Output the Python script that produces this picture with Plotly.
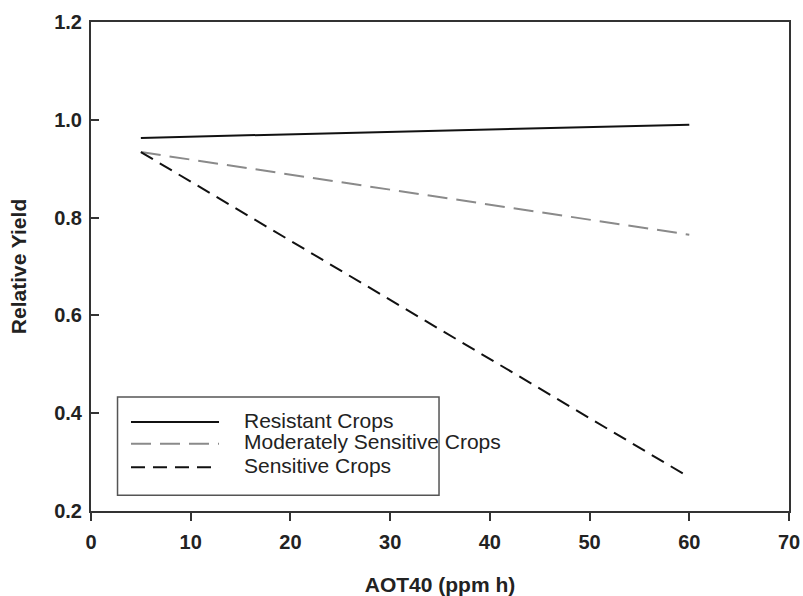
import plotly.graph_objects as go

# AOT40 exposure (ppm h) at the ends of each response line
aot40 = [5, 60]

# Relative yield for each crop sensitivity class
resistant = [0.963, 0.990]
moderate = [0.934, 0.765]
sensitive = [0.934, 0.269]

series_names = ["Resistant Crops", "Moderately Sensitive Crops", "Sensitive Crops"]
series_values = [resistant, moderate, sensitive]
series_styles = [
    dict(color="#111111", width=2, dash="solid"),
    dict(color="#8a8a8a", width=2, dash="20px,9px"),
    dict(color="#111111", width=2, dash="14px,8px"),
]

x_ticks = [0, 10, 20, 30, 40, 50, 60, 70]
y_ticks = [0.2, 0.4, 0.6, 0.8, 1.0, 1.2]

FONT = "Liberation Sans, Arial, Helvetica, sans-serif"

fig = go.Figure()
for name, vals, style in zip(series_names, series_values, series_styles):
    fig.add_trace(go.Scatter(x=aot40, y=vals, mode="lines", name=name,
                             line=style, showlegend=False))

# Boxed legend in the lower-left corner of the plot area
shapes = [dict(type="rect", xref="paper", yref="paper",
               x0=0.038, x1=0.4986, y0=0.032, y1=0.233,
               line=dict(color="#555555", width=1.5), fillcolor="white", layer="above")]
annotations = []
row_y = [0.182, 0.1374, 0.0894]
for name, style, yy in zip(series_names, series_styles, row_y):
    shapes.append(dict(type="line", xref="paper", yref="paper",
                       x0=0.0573, x1=0.1834, y0=yy, y1=yy,
                       line=dict(color=style["color"], width=style["width"], dash=style["dash"]),
                       layer="above"))
    annotations.append(dict(xref="paper", yref="paper", x=0.2163, y=yy + 0.004,
                            text=name, showarrow=False, xanchor="left", yanchor="middle",
                            font=dict(family=FONT, size=21, color="#222222")))

fig.update_layout(
    width=803, height=596,
    margin=dict(l=91, r=14, t=22, b=85),
    plot_bgcolor="white", paper_bgcolor="white",
    font=dict(family=FONT, color="#222222"),
    shapes=shapes, annotations=annotations,
    showlegend=False,
)

fig.update_xaxes(
    range=[0, 70], tickvals=x_ticks, ticktext=[str(v) for v in x_ticks],
    ticks="outside", ticklen=8, tickwidth=1.5, tickcolor="#333333",
    showline=True, linecolor="#333333", linewidth=2, mirror=True,
    showgrid=False, zeroline=False, automargin=False,
    tickfont=dict(family=FONT, size=20, color="#222222", weight="bold"),
    ticklabelstandoff=4,
    title=dict(text="<b>AOT40 (ppm h)</b>", font=dict(family=FONT, size=21, color="#222222"),
               standoff=25),
)
fig.update_yaxes(
    range=[0.2, 1.2], tickvals=y_ticks, ticktext=[f"{v:.1f}" for v in y_ticks],
    ticks="inside", ticklen=8, tickwidth=1.5, tickcolor="#333333",
    showline=True, linecolor="#333333", linewidth=2, mirror=True,
    showgrid=False, zeroline=False, automargin=False,
    tickfont=dict(family=FONT, size=20, color="#222222", weight="bold"),
    ticklabelstandoff=3,
    title=dict(text="<b>Relative Yield</b>", font=dict(family=FONT, size=21, color="#222222"),
               standoff=22),
)

fig.write_html("out.html")
